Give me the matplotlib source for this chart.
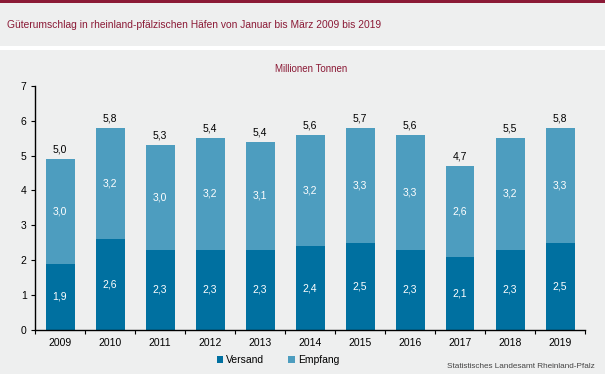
import matplotlib.pyplot as plt
from matplotlib.patches import Rectangle
from matplotlib.ticker import FixedLocator

years = ["2009", "2010", "2011", "2012", "2013", "2014", "2015", "2016", "2017", "2018", "2019"]
versand = [1.9, 2.6, 2.3, 2.3, 2.3, 2.4, 2.5, 2.3, 2.1, 2.3, 2.5]
empfang = [3.0, 3.2, 3.0, 3.2, 3.1, 3.2, 3.3, 3.3, 2.6, 3.2, 3.3]
totals = [5.0, 5.8, 5.3, 5.4, 5.4, 5.6, 5.7, 5.6, 4.7, 5.5, 5.8]

C_VERSAND = "#0070a0"
C_EMPFANG = "#4d9dbf"
C_RED = "#8b1a36"
BG = "#eeefef"

plt.rcParams["font.family"] = ["Liberation Sans", "DejaVu Sans"]

W, H = 605, 374
fig = plt.figure(figsize=(W / 100, H / 100), dpi=100)
fig.patch.set_facecolor("white")

# background bands
fig.add_artist(Rectangle((0, (H - 46) / H), 1, 44 / H, transform=fig.transFigure,
                         facecolor=BG, edgecolor="none", zorder=0))
fig.add_artist(Rectangle((0, 0), 1, (H - 50) / H, transform=fig.transFigure,
                         facecolor=BG, edgecolor="none", zorder=0))
fig.add_artist(Rectangle((0, (H - 2.5) / H), 1, 2.5 / H, transform=fig.transFigure,
                         facecolor=C_RED, edgecolor="none", zorder=1))

fig.text(7 / W, 1 - 25 / H, "Güterumschlag in rheinland-pfälzischen Häfen von Januar bis März 2009 bis 2019",
         color=C_RED, fontsize=7.4, va="center", ha="left")

ax = fig.add_axes([35 / W, (H - 330) / H, 550 / W, (330 - 85.7) / H])
ax.set_facecolor("none")
x = list(range(len(years)))
ax.bar(x, versand, width=0.58, color=C_VERSAND, label="Versand", zorder=2)
ax.bar(x, empfang, width=0.58, bottom=versand, color=C_EMPFANG, label="Empfang", zorder=2)

def fmt(v):
    return f"{v:.1f}".replace(".", ",")

for i in x:
    ax.text(i, versand[i] / 2, fmt(versand[i]), ha="center", va="center", color="white", fontsize=7.5)
    ax.text(i, versand[i] + empfang[i] / 2, fmt(empfang[i]), ha="center", va="center",
            color="white", fontsize=7.5)
    ax.text(i, versand[i] + empfang[i] + 0.12, fmt(totals[i]), ha="center", va="bottom",
            color="black", fontsize=7.5)

ax.set_xlim(-0.5, len(years) - 0.5)
ax.set_ylim(0, 7)
ax.set_yticks(range(8))
ax.set_xticks(x)
ax.set_xticklabels(years)
ax.xaxis.set_minor_locator(FixedLocator([i + 0.5 for i in range(-1, len(years))]))
ax.tick_params(axis="x", which="major", length=0, labelsize=7.5, pad=6)
ax.tick_params(axis="x", which="minor", length=3, direction="out", width=0.8)
ax.tick_params(axis="y", length=3, direction="out", width=0.8, labelsize=7.5, pad=3)
for s in ["top", "right"]:
    ax.spines[s].set_visible(False)
for s in ["left", "bottom"]:
    ax.spines[s].set_linewidth(1.0)

fig.text(311 / W, 1 - 69 / H, "Millionen Tonnen", color=C_RED, fontsize=7, ha="center", va="center")

fig.legend(loc="center", bbox_to_anchor=(278 / W, 1 - 360 / H), ncol=2, frameon=False,
           fontsize=7.5, handlelength=0.6, handleheight=0.6, handletextpad=0.3, columnspacing=2.3)

fig.text(595 / W, 1 - 367 / H, "Statistisches Landesamt Rheinland-Pfalz", color="#444444",
         fontsize=5.9, ha="right", va="center")

fig.savefig("out.png", dpi=100, facecolor=fig.get_facecolor())
